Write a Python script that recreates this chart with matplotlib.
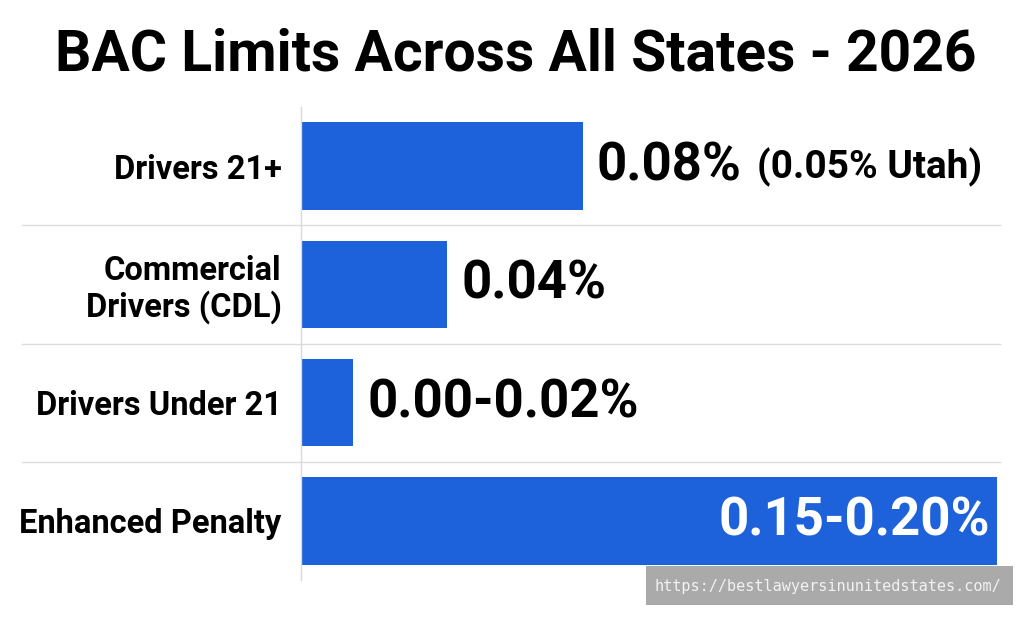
import matplotlib
matplotlib.use("Agg")
import matplotlib.pyplot as plt
from matplotlib.patches import Rectangle
import matplotlib.transforms as mtransforms

categories = ["Drivers 21+", "Commercial\nDrivers (CDL)", "Drivers Under 21", "Enhanced Penalty"]
values = [0.081, 0.042, 0.015, 0.20]
main_labels = ["0.08%", "0.04%", "0.00-0.02%", "0.15-0.20%"]
extra_labels = ["(0.05% Utah)", "", "", ""]
title = "BAC Limits Across All States - 2026"
watermark = "https://bestlawyersinunitedstates.com/"

plt.rcParams['font.family'] = ['Roboto', 'DejaVu Sans']
BLUE = "#1d62da"

fig = plt.figure(figsize=(10.24, 6.17), dpi=100)
ax = fig.add_axes([301/1024, 1-580/617, (1000-301)/1024, (580-107)/617])

y = list(range(len(categories)))
ax.barh(y, values, height=0.74, color=BLUE, zorder=2)
ax.set_ylim(len(categories)-0.5, -0.5)
ax.set_xlim(0, 0.2009)

for s in ["top", "right", "bottom"]:
    ax.spines[s].set_visible(False)
ax.spines["left"].set_color("#d9d9d9")
ax.spines["left"].set_linewidth(1.0)
ax.set_xticks([])
ax.set_yticks(y)
ax.set_yticklabels(categories, fontsize=23.5, fontweight="bold", linespacing=1.12)
ax.tick_params(axis="y", length=0, pad=14)

# separators between rows
trans = mtransforms.blended_transform_factory(fig.transFigure, ax.transData)
for b in [0.5, 1.5, 2.5]:
    ax.plot([22/1024, 1000/1024], [b, b], transform=trans, color="#dcdcdc",
            lw=1.0, clip_on=False, zorder=1)

# value labels
for i, (v, m, e) in enumerate(zip(values, main_labels, extra_labels)):
    if i == len(values) - 1:
        ax.annotate(m, xy=(v, i), xytext=(-5, 0), textcoords="offset points",
                    ha="right", va="center", fontsize=38, fontweight="bold",
                    color="white", zorder=3)
    else:
        t = ax.annotate(m, xy=(v, i), xytext=(10, 0), textcoords="offset points",
                        ha="left", va="center", fontsize=38, fontweight="bold",
                        color="black", zorder=3)
        if e:
            ax.annotate(e, xy=(1, 0.5), xycoords=t, xytext=(11, -1),
                        textcoords="offset points", ha="left", va="center",
                        fontsize=28, fontweight="bold", color="black")

fig.text(516/1024, 1-55/617, title, ha="center", va="center",
         fontsize=41, fontweight="bold", color="black")

# watermark
fig.patches.append(Rectangle((646/1024, 1-605/617), (1013-646)/1024, 39/617,
                             transform=fig.transFigure, facecolor="#a6a6a6",
                             edgecolor="none", alpha=0.95, zorder=5))
fig.text(828/1024, 1-586/617, watermark, ha="center", va="center",
         fontsize=11, family="DejaVu Sans Mono", color="#f2f2f2", zorder=6)

fig.savefig("out.png", dpi=100)
